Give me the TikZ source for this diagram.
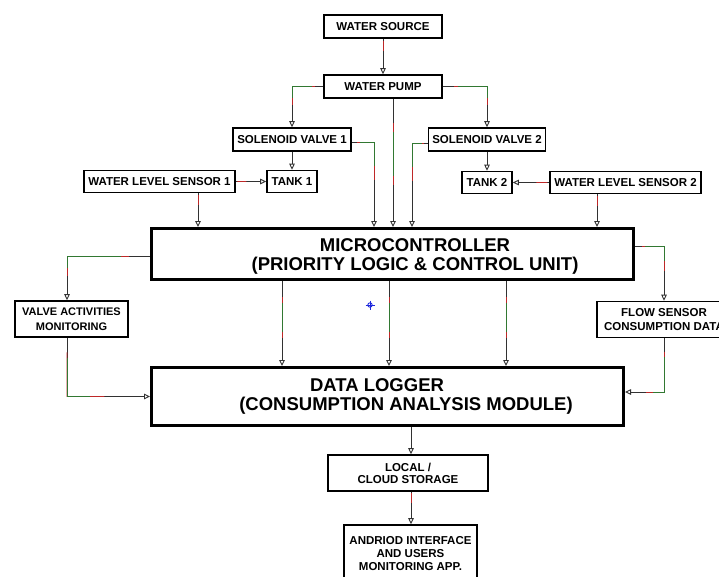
\documentclass[tikz,border=0pt]{standalone}
\usepackage{fontspec}
\setmainfont{Liberation Sans}
\usetikzlibrary{arrows.meta,calc}
\definecolor{lnk}{RGB}{50,50,50}
\definecolor{lred}{RGB}{190,40,40}
\definecolor{lgreen}{RGB}{50,120,50}
\definecolor{cursorblue}{RGB}{30,40,220}
\tikzset{
 box/.style={draw=black, line width=1.6pt, inner sep=0pt, align=center, font=\bfseries\fontsize{11.5}{13}\selectfont},
 bigbox/.style={draw=black, line width=3pt, inner sep=0pt},
 bigtext/.style={font=\bfseries\fontsize{18.5}{19}\selectfont, inner sep=0pt, align=center},
 conn/.style={draw=lnk, line width=0.9pt, -{Triangle[open,length=6pt,width=5.5pt]}},
 redseg/.style={draw=lred, line width=0.9pt},
 greenseg/.style={draw=lgreen, line width=0.9pt},
}
\newcommand\connS[2]{\draw[conn] (#1) -- (#2);
 \draw[redseg] ($(#1)!0.19!(#2)$) -- ($(#1)!0.67!(#2)$);
 \draw[greenseg] ($(#1)!0.26!(#2)$) -- ($(#1)!0.6!(#2)$);}
\newcommand\connE[3]{\draw[conn] (#1) -- (#2) -- (#3);
 \draw[redseg] ($(#1)!0.25!(#2)$) -- (#2) -- ($(#2)!0.45!(#3)$);
 \draw[greenseg] ($(#1)!0.35!(#2)$) -- (#2) -- ($(#2)!0.28!(#3)$);}
\newcommand\connT[2]{\draw[conn] (#1) -- (#2);
 \draw[redseg] ($(#1)!0.05!(#2)$) -- ($(#1)!0.35!(#2)$);}
\newcommand\connP[2]{\draw[conn] (#1) -- (#2);}
\begin{document}
\begin{tikzpicture}[x=1pt,y=-1pt]
\fill[white] (0,0) rectangle (719,577);
\useasboundingbox (0,0) rectangle (719,577);

% nodes
\node[box, minimum width=118pt, minimum height=23pt] (src) at (383,26.5) {WATER SOURCE};
\node[box, minimum width=118pt, minimum height=23pt] (pump) at (383,86.5) {WATER PUMP};
\node[box, minimum width=118pt, minimum height=23pt] (sv1) at (292,139.5) {SOLENOID VALVE 1};
\node[box, minimum width=117pt, minimum height=23pt] (sv2) at (487,139.5) {SOLENOID VALVE 2};
\node[box, minimum width=50pt, minimum height=22pt] (tank1) at (292,181.5) {TANK 1};
\node[box, minimum width=50pt, minimum height=22pt] (tank2) at (487,182.5) {TANK 2};
\node[box, minimum width=151pt, minimum height=22pt] (wls1) at (159.5,181.5) {WATER LEVEL SENSOR 1};
\node[box, minimum width=151pt, minimum height=22pt] (wls2) at (625.5,182.5) {WATER LEVEL SENSOR 2};

\node[bigbox, minimum width=482pt, minimum height=51pt] (mc) at (392.5,254) {};
\node[bigtext] (mct) at (415,256.5) {MICROCONTROLLER\\(PRIORITY LOGIC \& CONTROL UNIT)};

\node[box, minimum width=113pt, minimum height=36pt, font=\bfseries\fontsize{11}{15}\selectfont] (vam) at (71.5,319) {VALVE ACTIVITIES\\MONITORING};
\node[box, minimum width=134pt, minimum height=36pt, font=\bfseries\fontsize{11.5}{13.3}\selectfont] (fs) at (664,319.5) {FLOW SENSOR\\CONSUMPTION DATA};

\node[bigbox, minimum width=472pt, minimum height=58pt] (dl) at (387.5,396.5) {};
\node[bigtext, anchor=base] (dlt1) at (377,391.5) {DATA LOGGER};
\node[bigtext, anchor=base] (dlt2) at (406,410.5) {(CONSUMPTION ANALYSIS MODULE)};

\node[box, minimum width=160pt, minimum height=36pt, font=\bfseries\fontsize{11.5}{12}\selectfont] (ls) at (408,473) {LOCAL /\\CLOUD STORAGE};
\node[box, minimum width=133pt, minimum height=58pt, font=\bfseries\fontsize{11.5}{13}\selectfont] (app) at (410.5,554) {ANDRIOD INTERFACE\\AND USERS\\MONITORING APP.};

% helper coordinates
\coordinate (a1) at ([xshift=10pt]pump.south);
\coordinate (a2) at (a1 |- mc.north);
\coordinate (b0) at ([yshift=-2.5pt]sv1.east);
\coordinate (b2) at ([xshift=-18.5pt]mc.north);
\coordinate (b1) at (b0 -| b2);
\coordinate (c0) at ([yshift=-3.5pt]sv2.west);
\coordinate (c2) at ([xshift=19.5pt]mc.north);
\coordinate (c1) at (c0 -| c2);
\coordinate (d1) at (pump.west -| sv1.north);
\coordinate (e1) at (pump.east -| sv2.north);
\coordinate (f1) at ([xshift=38.5pt]wls1.south);
\coordinate (f2) at (f1 |- mc.north);
\coordinate (g1) at ([xshift=-28.5pt]wls2.south);
\coordinate (g2) at (g1 |- mc.north);
\coordinate (h0) at ([yshift=-2pt]mc.west);
\coordinate (h2) at ([xshift=-4.5pt]vam.north);
\coordinate (h1) at (h0 -| h2);
\coordinate (i0) at ([xshift=-4.5pt]vam.south);
\coordinate (i1) at (i0 |- dl.west);
\coordinate (j0) at ([yshift=8pt]mc.east);
\coordinate (j1) at (j0 -| fs.north);
\coordinate (k2) at ([yshift=4.5pt]dl.east);
\coordinate (k1) at (fs.south |- k2);
\coordinate (m1) at ([xshift=-110.5pt]mc.south);
\coordinate (m2) at (m1 |- dl.north);
\coordinate (n1) at ([xshift=-3.5pt]mc.south);
\coordinate (n2) at (n1 |- dl.north);
\coordinate (o1) at ([xshift=113.5pt]mc.south);
\coordinate (o2) at (o1 |- dl.north);
\coordinate (q1) at ([xshift=23.5pt]dl.south);
\coordinate (q2) at (q1 |- ls.north);
\coordinate (r1) at ([xshift=3pt]ls.south);
\coordinate (r2) at (r1 |- app.north);

% connectors
\connT{src.south}{pump.north}
\connE{pump.west}{d1}{sv1.north}
\connE{pump.east}{e1}{sv2.north}
\connS{a1}{a2}
\connE{b0}{b1}{b2}
\connE{c0}{c1}{c2}
\connP{sv1.south}{tank1.north}
\connP{sv2.south}{tank2.north}
\connT{wls1.east}{tank1.west}
\connT{wls2.west}{tank2.east}
\connT{f1}{f2}
\connT{g1}{g2}
\connE{h0}{h1}{h2}
\connE{i0}{i1}{dl.west}
\connE{j0}{j1}{fs.north}
\connE{fs.south}{k1}{k2}
\connS{m1}{m2}
\connS{n1}{n2}
\connS{o1}{o2}
\connP{q1}{q2}
\connT{r1}{r2}

% stray cursor mark
\draw[cursorblue, line width=0.9pt] (370,305) circle (2.2pt);
\draw[cursorblue, line width=0.9pt] (365.5,305) -- (374.5,305) (370,300.5) -- (370,309.5);
\end{tikzpicture}
\end{document}
